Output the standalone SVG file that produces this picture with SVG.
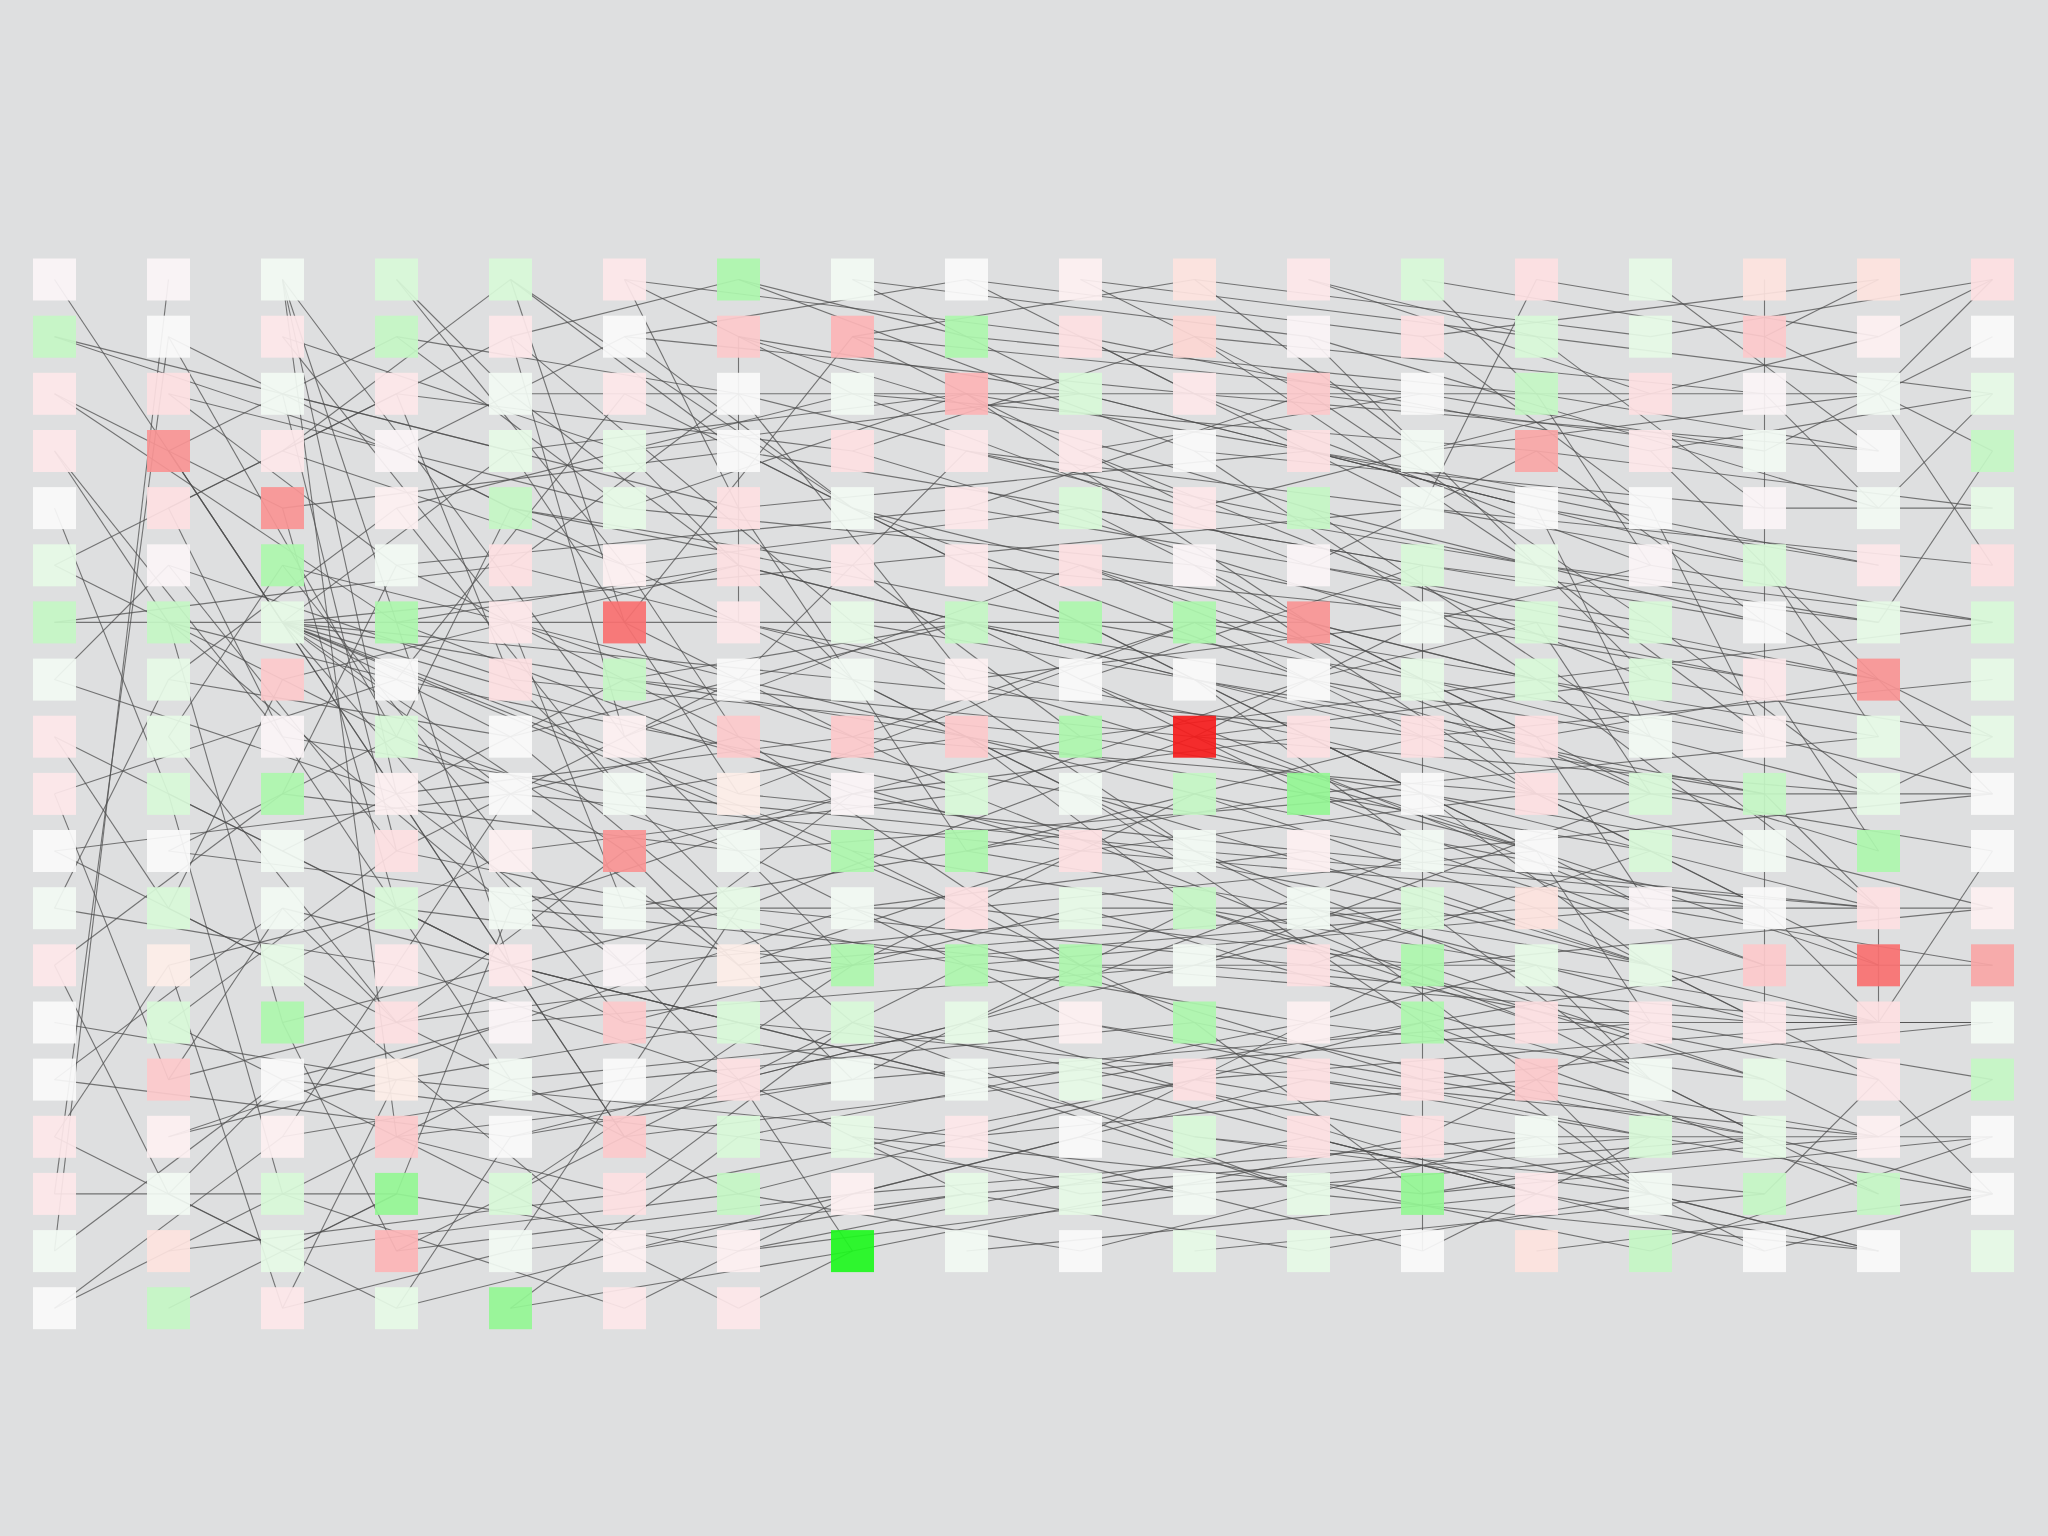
<svg xmlns="http://www.w3.org/2000/svg" width="2048" height="1536" viewBox="0 0 2048 1536">
<style>
#edges line{stroke:#4d4d4d;stroke-width:1.1px;stroke-opacity:.75;vector-effect:non-scaling-stroke;fill:none}
.nodes rect{fill-opacity:.92}
.w0{fill:#fafafa}.wp{fill:#fbf4f6}.wg{fill:#f2faf3}.p0{fill:#fdf0f1}.p1{fill:#fde7e9}.p2{fill:#fde0e2}.p3{fill:#fcc9cb}.p4{fill:#fcb4b6}
.pe{fill:#fde3de}.pe1{fill:#fdeee8}.pe2{fill:#fcd6d2}.r0{fill:#f9a6a6}.r1{fill:#f99494}.r2{fill:#f87070}.R{fill:#f51c1c}
.g1{fill:#e6fae6}.g2{fill:#d8f8d8}.g3{fill:#c4f6c4}.g4{fill:#acf6ac}.g5{fill:#94f694}.G{fill:#1ef71e}
</style>
<rect width="2048" height="1536" fill="#dedfe0"/>
<g id="edges" transform="matrix(114,0,0,57.15,54.5,279.5)">
<line x1="0" y1="0" x2="5" y2="15"/><line x1="0" y1="1" x2="3" y2="3"/><line x1="0" y1="1" x2="4" y2="3"/><line x1="0" y1="2" x2="2" y2="4"/><line x1="0" y1="2" x2="3" y2="6"/><line x1="0" y1="3" x2="1" y2="6"/><line x1="0" y1="3" x2="2" y2="8"/><line x1="0" y1="4" x2="1" y2="9"/><line x1="0" y1="5" x2="2" y2="7"/><line x1="0" y1="5" x2="3" y2="2"/><line x1="0" y1="6" x2="2" y2="6"/><line x1="0" y1="6" x2="4" y2="5"/><line x1="0" y1="7" x2="1" y2="5"/><line x1="0" y1="7" x2="3" y2="9"/><line x1="0" y1="8" x2="1" y2="11"/><line x1="0" y1="8" x2="2" y2="10"/><line x1="0" y1="9" x2="3" y2="7"/><line x1="0" y1="9" x2="1" y2="14"/><line x1="0" y1="10" x2="2" y2="12"/><line x1="0" y1="10" x2="4" y2="9"/><line x1="0" y1="11" x2="1" y2="7"/><line x1="0" y1="11" x2="3" y2="12"/><line x1="0" y1="12" x2="2" y2="9"/><line x1="0" y1="12" x2="1" y2="16"/><line x1="0" y1="13" x2="3" y2="14"/><line x1="0" y1="14" x2="4" y2="15"/><line x1="0" y1="14" x2="2" y2="11"/><line x1="0" y1="15" x2="1" y2="12"/><line x1="0" y1="15" x2="2" y2="17"/><line x1="0" y1="16" x2="1" y2="1"/><line x1="0" y1="16" x2="3" y2="16"/><line x1="0" y1="17" x2="1" y2="0"/><line x1="0" y1="17" x2="2" y2="14"/><line x1="0" y1="18" x2="2" y2="15"/><line x1="0" y1="18" x2="1" y2="17"/>
<line x1="1" y1="1" x2="3" y2="8"/><line x1="1" y1="1" x2="4" y2="4"/><line x1="1" y1="2" x2="3" y2="5"/><line x1="1" y1="2" x2="5" y2="4"/><line x1="1" y1="3" x2="5" y2="15"/><line x1="1" y1="3" x2="3" y2="1"/><line x1="1" y1="3" x2="2" y2="6"/><line x1="1" y1="4" x2="4" y2="1"/><line x1="1" y1="4" x2="2" y2="8"/><line x1="1" y1="5" x2="4" y2="7"/><line x1="1" y1="5" x2="3" y2="10"/><line x1="1" y1="6" x2="3" y2="7"/><line x1="1" y1="6" x2="4" y2="11"/><line x1="1" y1="6" x2="2" y2="13"/><line x1="1" y1="7" x2="3" y2="4"/><line x1="1" y1="7" x2="4" y2="8"/><line x1="1" y1="8" x2="2" y2="5"/><line x1="1" y1="8" x2="3" y2="13"/><line x1="1" y1="9" x2="4" y2="12"/><line x1="1" y1="9" x2="2" y2="16"/><line x1="1" y1="10" x2="3" y2="8"/><line x1="1" y1="10" x2="5" y2="11"/><line x1="1" y1="11" x2="2" y2="7"/><line x1="1" y1="11" x2="4" y2="14"/><line x1="1" y1="12" x2="3" y2="11"/><line x1="1" y1="12" x2="2" y2="18"/><line x1="1" y1="13" x2="3" y2="10"/><line x1="1" y1="13" x2="4" y2="16"/><line x1="1" y1="14" x2="2" y2="11"/><line x1="1" y1="14" x2="5" y2="12"/><line x1="1" y1="15" x2="3" y2="14"/><line x1="1" y1="15" x2="4" y2="13"/><line x1="1" y1="16" x2="2" y2="14"/><line x1="1" y1="16" x2="3" y2="18"/><line x1="1" y1="17" x2="2" y2="16"/><line x1="1" y1="17" x2="5" y2="16"/><line x1="1" y1="18" x2="3" y2="16"/>
<line x1="2" y1="0" x2="3" y2="9"/><line x1="2" y1="0" x2="4" y2="12"/><line x1="2" y1="0" x2="5" y2="8"/><line x1="2" y1="0" x2="3" y2="15"/><line x1="2" y1="1" x2="4" y2="6"/><line x1="2" y1="1" x2="5" y2="3"/><line x1="2" y1="3" x2="4" y2="0"/><line x1="2" y1="2" x2="6" y2="4"/><line x1="2" y1="2" x2="3" y2="10"/><line x1="2" y1="3" x2="5" y2="5"/><line x1="2" y1="4" x2="6" y2="3"/><line x1="2" y1="4" x2="3" y2="11"/><line x1="2" y1="5" x2="6" y2="7"/><line x1="2" y1="5" x2="4" y2="10"/><line x1="2" y1="6" x2="5" y2="6"/><line x1="2" y1="6" x2="7" y2="7"/><line x1="2" y1="6" x2="6" y2="9"/><line x1="2" y1="6" x2="8" y2="8"/><line x1="2" y1="6" x2="5" y2="10"/><line x1="2" y1="6" x2="7" y2="5"/><line x1="2" y1="6" x2="4" y2="8"/><line x1="2" y1="6" x2="9" y2="10"/><line x1="2" y1="6" x2="6" y2="12"/><line x1="2" y1="6" x2="4" y2="3"/><line x1="2" y1="6" x2="8" y2="11"/><line x1="2" y1="6" x2="5" y2="13"/><line x1="2" y1="6" x2="7" y2="10"/><line x1="2" y1="7" x2="4" y2="9"/><line x1="2" y1="7" x2="6" y2="5"/><line x1="2" y1="8" x2="5" y2="9"/><line x1="2" y1="8" x2="4" y2="14"/><line x1="2" y1="9" x2="3" y2="5"/><line x1="2" y1="9" x2="6" y2="10"/><line x1="2" y1="10" x2="4" y2="12"/><line x1="2" y1="10" x2="5" y2="7"/><line x1="2" y1="11" x2="3" y2="13"/><line x1="2" y1="11" x2="6" y2="13"/><line x1="2" y1="12" x2="4" y2="10"/><line x1="2" y1="12" x2="5" y2="17"/><line x1="2" y1="13" x2="3" y2="17"/><line x1="2" y1="13" x2="6" y2="11"/><line x1="2" y1="14" x2="4" y2="13"/><line x1="2" y1="14" x2="6" y2="15"/><line x1="2" y1="15" x2="3" y2="12"/><line x1="2" y1="15" x2="5" y2="14"/><line x1="2" y1="16" x2="4" y2="14"/><line x1="2" y1="16" x2="5" y2="18"/><line x1="2" y1="17" x2="3" y2="16"/><line x1="2" y1="17" x2="6" y2="16"/><line x1="2" y1="18" x2="4" y2="17"/><line x1="2" y1="18" x2="3" y2="14"/>
<line x1="3" y1="0" x2="5" y2="5"/><line x1="3" y1="0" x2="4" y2="2"/><line x1="3" y1="1" x2="6" y2="2"/><line x1="3" y1="1" x2="5" y2="4"/><line x1="3" y1="2" x2="7" y2="3"/><line x1="3" y1="2" x2="4" y2="7"/><line x1="3" y1="3" x2="6" y2="6"/><line x1="3" y1="3" x2="5" y2="1"/><line x1="3" y1="4" x2="7" y2="2"/><line x1="3" y1="4" x2="5" y2="9"/><line x1="3" y1="5" x2="6" y2="8"/><line x1="3" y1="5" x2="8" y2="4"/><line x1="3" y1="6" x2="6" y2="5"/><line x1="3" y1="6" x2="7" y2="9"/><line x1="3" y1="7" x2="5" y2="2"/><line x1="3" y1="7" x2="8" y2="9"/><line x1="3" y1="8" x2="6" y2="10"/><line x1="3" y1="8" x2="4" y2="4"/><line x1="3" y1="9" x2="7" y2="8"/><line x1="3" y1="9" x2="5" y2="12"/><line x1="3" y1="10" x2="6" y2="7"/><line x1="3" y1="10" x2="8" y2="12"/><line x1="3" y1="11" x2="5" y2="13"/><line x1="3" y1="11" x2="7" y2="12"/><line x1="3" y1="12" x2="6" y2="14"/><line x1="3" y1="12" x2="4" y2="9"/><line x1="3" y1="13" x2="7" y2="12"/><line x1="3" y1="13" x2="5" y2="10"/><line x1="3" y1="14" x2="6" y2="13"/><line x1="3" y1="14" x2="8" y2="15"/><line x1="3" y1="15" x2="5" y2="16"/><line x1="3" y1="15" x2="7" y2="14"/><line x1="3" y1="16" x2="6" y2="17"/><line x1="3" y1="16" x2="4" y2="11"/><line x1="3" y1="17" x2="5" y2="15"/><line x1="3" y1="17" x2="7" y2="16"/><line x1="3" y1="18" x2="5" y2="17"/><line x1="3" y1="18" x2="4" y2="15"/>
<line x1="4" y1="0" x2="6" y2="3"/><line x1="4" y1="0" x2="5" y2="6"/><line x1="4" y1="0" x2="7" y2="4"/><line x1="4" y1="1" x2="6" y2="0"/><line x1="4" y1="1" x2="7" y2="6"/><line x1="4" y1="1" x2="5" y2="8"/><line x1="4" y1="2" x2="16" y2="2"/><line x1="4" y1="2" x2="6" y2="5"/><line x1="4" y1="3" x2="8" y2="2"/><line x1="4" y1="3" x2="6" y2="9"/><line x1="4" y1="4" x2="7" y2="5"/><line x1="4" y1="4" x2="9" y2="6"/><line x1="4" y1="5" x2="6" y2="2"/><line x1="4" y1="5" x2="8" y2="7"/><line x1="4" y1="6" x2="7" y2="8"/><line x1="4" y1="6" x2="5" y2="11"/><line x1="4" y1="7" x2="9" y2="8"/><line x1="4" y1="7" x2="6" y2="11"/><line x1="4" y1="8" x2="8" y2="6"/><line x1="4" y1="8" x2="7" y2="13"/><line x1="4" y1="9" x2="6" y2="8"/><line x1="4" y1="9" x2="9" y2="10"/><line x1="4" y1="10" x2="8" y2="9"/><line x1="4" y1="10" x2="6" y2="14"/><line x1="4" y1="11" x2="7" y2="9"/><line x1="4" y1="11" x2="9" y2="12"/><line x1="4" y1="12" x2="6" y2="13"/><line x1="4" y1="12" x2="8" y2="14"/><line x1="4" y1="13" x2="7" y2="11"/><line x1="4" y1="13" x2="10" y2="12"/><line x1="4" y1="14" x2="6" y2="16"/><line x1="4" y1="14" x2="9" y2="13"/><line x1="4" y1="15" x2="7" y2="14"/><line x1="4" y1="15" x2="8" y2="13"/><line x1="4" y1="16" x2="6" y2="18"/><line x1="4" y1="16" x2="7" y2="12"/><line x1="4" y1="17" x2="5" y2="14"/><line x1="4" y1="17" x2="8" y2="16"/><line x1="4" y1="18" x2="6" y2="15"/><line x1="4" y1="18" x2="7" y2="17"/>
<line x1="5" y1="0" x2="7" y2="2"/><line x1="5" y1="0" x2="9" y2="1"/><line x1="5" y1="0" x2="6" y2="4"/><line x1="5" y1="1" x2="8" y2="0"/><line x1="5" y1="1" x2="7" y2="4"/><line x1="5" y1="1" x2="10" y2="2"/><line x1="5" y1="2" x2="8" y2="5"/><line x1="5" y1="3" x2="9" y2="2"/><line x1="5" y1="3" x2="7" y2="7"/><line x1="5" y1="4" x2="10" y2="5"/><line x1="5" y1="4" x2="8" y2="2"/><line x1="5" y1="5" x2="6" y2="8"/><line x1="5" y1="5" x2="9" y2="4"/><line x1="5" y1="6" x2="11" y2="6"/><line x1="5" y1="6" x2="8" y2="9"/><line x1="5" y1="6" x2="7" y2="1"/><line x1="5" y1="7" x2="10" y2="8"/><line x1="5" y1="7" x2="8" y2="6"/><line x1="5" y1="8" x2="9" y2="5"/><line x1="5" y1="8" x2="7" y2="12"/><line x1="5" y1="9" x2="10" y2="10"/><line x1="5" y1="9" x2="8" y2="8"/><line x1="5" y1="10" x2="9" y2="8"/><line x1="5" y1="10" x2="7" y2="14"/><line x1="5" y1="11" x2="11" y2="9"/><line x1="5" y1="11" x2="8" y2="11"/><line x1="5" y1="12" x2="10" y2="11"/><line x1="5" y1="12" x2="7" y2="9"/><line x1="5" y1="13" x2="9" y2="11"/><line x1="5" y1="13" x2="8" y2="14"/><line x1="5" y1="14" x2="10" y2="13"/><line x1="5" y1="14" x2="6" y2="11"/><line x1="5" y1="15" x2="9" y2="14"/><line x1="5" y1="15" x2="8" y2="12"/><line x1="5" y1="16" x2="10" y2="14"/><line x1="5" y1="16" x2="7" y2="13"/><line x1="5" y1="17" x2="9" y2="15"/><line x1="5" y1="17" x2="8" y2="16"/><line x1="5" y1="18" x2="7" y2="16"/>
<line x1="6" y1="0" x2="8" y2="1"/><line x1="6" y1="0" x2="10" y2="3"/><line x1="6" y1="1" x2="9" y2="2"/><line x1="6" y1="1" x2="6" y2="6"/><line x1="6" y1="1" x2="11" y2="4"/><line x1="6" y1="2" x2="10" y2="4"/><line x1="6" y1="2" x2="8" y2="7"/><line x1="6" y1="3" x2="12" y2="5"/><line x1="6" y1="3" x2="9" y2="6"/><line x1="6" y1="4" x2="11" y2="3"/><line x1="6" y1="4" x2="8" y2="10"/><line x1="6" y1="5" x2="10" y2="7"/><line x1="6" y1="5" x2="12" y2="8"/><line x1="6" y1="6" x2="9" y2="9"/><line x1="6" y1="6" x2="11" y2="8"/><line x1="6" y1="7" x2="10" y2="9"/><line x1="6" y1="7" x2="8" y2="3"/><line x1="6" y1="8" x2="12" y2="10"/><line x1="6" y1="8" x2="9" y2="12"/><line x1="6" y1="9" x2="11" y2="10"/><line x1="6" y1="9" x2="10" y2="6"/><line x1="6" y1="10" x2="12" y2="9"/><line x1="6" y1="10" x2="9" y2="13"/><line x1="6" y1="11" x2="11" y2="12"/><line x1="6" y1="11" x2="10" y2="8"/><line x1="6" y1="12" x2="12" y2="11"/><line x1="6" y1="12" x2="9" y2="10"/><line x1="6" y1="13" x2="11" y2="14"/><line x1="6" y1="13" x2="10" y2="15"/><line x1="6" y1="14" x2="12" y2="11"/><line x1="6" y1="14" x2="8" y2="16"/><line x1="6" y1="15" x2="11" y2="13"/><line x1="6" y1="15" x2="10" y2="16"/><line x1="6" y1="16" x2="12" y2="13"/><line x1="6" y1="16" x2="9" y2="17"/><line x1="6" y1="17" x2="11" y2="15"/><line x1="6" y1="17" x2="10" y2="16"/><line x1="6" y1="18" x2="7" y2="17"/>
<line x1="7" y1="0" x2="9" y2="2"/><line x1="7" y1="0" x2="11" y2="1"/><line x1="7" y1="1" x2="12" y2="2"/><line x1="7" y1="1" x2="10" y2="4"/><line x1="7" y1="2" x2="11" y2="5"/><line x1="7" y1="2" x2="13" y2="3"/><line x1="7" y1="3" x2="12" y2="6"/><line x1="7" y1="3" x2="10" y2="1"/><line x1="7" y1="4" x2="13" y2="7"/><line x1="7" y1="4" x2="11" y2="7"/><line x1="7" y1="5" x2="12" y2="4"/><line x1="7" y1="5" x2="9" y2="8"/><line x1="7" y1="6" x2="13" y2="8"/><line x1="7" y1="6" x2="10" y2="10"/><line x1="7" y1="7" x2="12" y2="8"/><line x1="7" y1="7" x2="11" y2="11"/><line x1="7" y1="8" x2="13" y2="9"/><line x1="7" y1="8" x2="10" y2="6"/><line x1="7" y1="9" x2="12" y2="11"/><line x1="7" y1="9" x2="11" y2="8"/><line x1="7" y1="10" x2="13" y2="12"/><line x1="7" y1="10" x2="10" y2="13"/><line x1="7" y1="11" x2="12" y2="14"/><line x1="7" y1="11" x2="11" y2="10"/><line x1="7" y1="12" x2="13" y2="11"/><line x1="7" y1="12" x2="10" y2="9"/><line x1="7" y1="13" x2="12" y2="15"/><line x1="7" y1="13" x2="11" y2="16"/><line x1="7" y1="14" x2="13" y2="13"/><line x1="7" y1="14" x2="10" y2="11"/><line x1="7" y1="15" x2="12" y2="16"/><line x1="7" y1="15" x2="9" y2="16"/><line x1="7" y1="16" x2="13" y2="15"/><line x1="7" y1="16" x2="11" y2="14"/><line x1="7" y1="17" x2="12" y2="15"/><line x1="7" y1="17" x2="6" y2="14"/>
<line x1="8" y1="0" x2="12" y2="1"/><line x1="8" y1="0" x2="10" y2="2"/><line x1="8" y1="1" x2="13" y2="2"/><line x1="8" y1="2" x2="14" y2="4"/><line x1="8" y1="2" x2="11" y2="6"/><line x1="8" y1="3" x2="13" y2="5"/><line x1="8" y1="3" x2="12" y2="4"/><line x1="8" y1="4" x2="14" y2="6"/><line x1="8" y1="4" x2="11" y2="2"/><line x1="8" y1="5" x2="13" y2="6"/><line x1="8" y1="5" x2="12" y2="9"/><line x1="8" y1="6" x2="14" y2="8"/><line x1="8" y1="6" x2="11" y2="9"/><line x1="8" y1="7" x2="13" y2="10"/><line x1="8" y1="7" x2="12" y2="6"/><line x1="8" y1="8" x2="14" y2="10"/><line x1="8" y1="8" x2="10" y2="11"/><line x1="8" y1="9" x2="13" y2="13"/><line x1="8" y1="9" x2="11" y2="7"/><line x1="8" y1="10" x2="14" y2="12"/><line x1="8" y1="10" x2="12" y2="8"/><line x1="8" y1="11" x2="13" y2="10"/><line x1="8" y1="11" x2="12" y2="12"/><line x1="8" y1="12" x2="14" y2="11"/><line x1="8" y1="12" x2="11" y2="13"/><line x1="8" y1="13" x2="13" y2="16"/><line x1="8" y1="13" x2="12" y2="10"/><line x1="8" y1="14" x2="14" y2="13"/><line x1="8" y1="14" x2="11" y2="16"/><line x1="8" y1="15" x2="13" y2="14"/><line x1="8" y1="15" x2="12" y2="17"/><line x1="8" y1="16" x2="14" y2="15"/><line x1="8" y1="16" x2="11" y2="17"/><line x1="8" y1="17" x2="13" y2="16"/>
<line x1="9" y1="0" x2="13" y2="1"/><line x1="9" y1="0" x2="11" y2="2"/><line x1="9" y1="1" x2="14" y2="3"/><line x1="9" y1="1" x2="12" y2="4"/><line x1="9" y1="2" x2="15" y2="5"/><line x1="9" y1="2" x2="13" y2="4"/><line x1="9" y1="3" x2="14" y2="7"/><line x1="9" y1="3" x2="12" y2="2"/><line x1="9" y1="4" x2="15" y2="6"/><line x1="9" y1="4" x2="13" y2="8"/><line x1="9" y1="5" x2="14" y2="9"/><line x1="9" y1="5" x2="12" y2="7"/><line x1="9" y1="6" x2="15" y2="8"/><line x1="9" y1="6" x2="13" y2="10"/><line x1="9" y1="7" x2="14" y2="11"/><line x1="9" y1="7" x2="12" y2="5"/><line x1="9" y1="8" x2="15" y2="10"/><line x1="9" y1="8" x2="13" y2="7"/><line x1="9" y1="9" x2="14" y2="12"/><line x1="9" y1="9" x2="12" y2="13"/><line x1="9" y1="10" x2="15" y2="11"/><line x1="9" y1="10" x2="13" y2="9"/><line x1="9" y1="11" x2="14" y2="14"/><line x1="9" y1="11" x2="12" y2="11"/><line x1="9" y1="12" x2="15" y2="13"/><line x1="9" y1="12" x2="13" y2="12"/><line x1="9" y1="13" x2="14" y2="15"/><line x1="9" y1="13" x2="12" y2="14"/><line x1="9" y1="14" x2="15" y2="12"/><line x1="9" y1="14" x2="13" y2="16"/><line x1="9" y1="15" x2="14" y2="17"/><line x1="9" y1="15" x2="12" y2="12"/><line x1="9" y1="16" x2="15" y2="15"/><line x1="9" y1="17" x2="13" y2="15"/>
<line x1="10" y1="0" x2="7" y2="1"/><line x1="10" y1="0" x2="14" y2="1"/><line x1="10" y1="0" x2="12" y2="3"/><line x1="10" y1="1" x2="15" y2="2"/><line x1="10" y1="1" x2="13" y2="5"/><line x1="10" y1="2" x2="16" y2="3"/><line x1="10" y1="2" x2="14" y2="5"/><line x1="10" y1="3" x2="15" y2="4"/><line x1="10" y1="3" x2="13" y2="7"/><line x1="10" y1="4" x2="16" y2="6"/><line x1="10" y1="4" x2="14" y2="2"/><line x1="10" y1="5" x2="15" y2="7"/><line x1="10" y1="5" x2="13" y2="9"/><line x1="10" y1="6" x2="16" y2="8"/><line x1="10" y1="6" x2="14" y2="10"/><line x1="10" y1="7" x2="15" y2="9"/><line x1="10" y1="7" x2="12" y2="10"/><line x1="10" y1="8" x2="16" y2="9"/><line x1="10" y1="8" x2="13" y2="10"/><line x1="10" y1="8" x2="14" y2="7"/><line x1="10" y1="8" x2="12" y2="6"/><line x1="10" y1="9" x2="15" y2="11"/><line x1="10" y1="9" x2="13" y2="11"/><line x1="10" y1="10" x2="16" y2="11"/><line x1="10" y1="10" x2="14" y2="13"/><line x1="10" y1="11" x2="15" y2="14"/><line x1="10" y1="11" x2="13" y2="13"/><line x1="10" y1="12" x2="16" y2="13"/><line x1="10" y1="12" x2="14" y2="9"/><line x1="10" y1="13" x2="15" y2="15"/><line x1="10" y1="13" x2="12" y2="16"/><line x1="10" y1="14" x2="16" y2="13"/><line x1="10" y1="14" x2="13" y2="15"/><line x1="10" y1="15" x2="15" y2="16"/><line x1="10" y1="15" x2="14" y2="16"/><line x1="10" y1="16" x2="16" y2="15"/><line x1="10" y1="17" x2="15" y2="16"/>
<line x1="11" y1="0" x2="14" y2="2"/><line x1="11" y1="0" x2="13" y2="1"/><line x1="11" y1="1" x2="16" y2="4"/><line x1="11" y1="1" x2="12" y2="3"/><line x1="11" y1="2" x2="15" y2="3"/><line x1="11" y1="2" x2="14" y2="6"/><line x1="11" y1="3" x2="16" y2="5"/><line x1="11" y1="3" x2="13" y2="4"/><line x1="11" y1="4" x2="15" y2="6"/><line x1="11" y1="4" x2="14" y2="8"/><line x1="11" y1="5" x2="16" y2="7"/><line x1="11" y1="5" x2="13" y2="3"/><line x1="11" y1="6" x2="15" y2="8"/><line x1="11" y1="6" x2="14" y2="9"/><line x1="11" y1="7" x2="16" y2="10"/><line x1="11" y1="7" x2="13" y2="6"/><line x1="11" y1="8" x2="15" y2="10"/><line x1="11" y1="8" x2="14" y2="11"/><line x1="11" y1="9" x2="16" y2="8"/><line x1="11" y1="9" x2="13" y2="10"/><line x1="11" y1="9" x2="15" y2="12"/><line x1="11" y1="10" x2="14" y2="12"/><line x1="11" y1="10" x2="16" y2="11"/><line x1="11" y1="11" x2="15" y2="13"/><line x1="11" y1="11" x2="13" y2="14"/><line x1="11" y1="12" x2="16" y2="14"/><line x1="11" y1="12" x2="14" y2="10"/><line x1="11" y1="13" x2="15" y2="14"/><line x1="11" y1="13" x2="13" y2="12"/><line x1="11" y1="14" x2="16" y2="15"/><line x1="11" y1="14" x2="14" y2="15"/><line x1="11" y1="15" x2="15" y2="17"/><line x1="11" y1="15" x2="13" y2="16"/><line x1="11" y1="16" x2="16" y2="17"/><line x1="11" y1="17" x2="14" y2="16"/>
<line x1="12" y1="0" x2="15" y2="1"/><line x1="12" y1="0" x2="13" y2="2"/><line x1="12" y1="1" x2="16" y2="0"/><line x1="12" y1="1" x2="14" y2="4"/><line x1="12" y1="2" x2="15" y2="3"/><line x1="12" y1="3" x2="16" y2="2"/><line x1="12" y1="3" x2="14" y2="7"/><line x1="12" y1="4" x2="15" y2="5"/><line x1="12" y1="4" x2="17" y2="5"/><line x1="12" y1="5" x2="12" y2="17"/><line x1="12" y1="5" x2="16" y2="6"/><line x1="12" y1="6" x2="15" y2="7"/><line x1="12" y1="6" x2="14" y2="5"/><line x1="12" y1="7" x2="16" y2="9"/><line x1="12" y1="7" x2="13" y2="9"/><line x1="12" y1="8" x2="15" y2="9"/><line x1="12" y1="8" x2="17" y2="7"/><line x1="12" y1="9" x2="16" y2="11"/><line x1="12" y1="9" x2="14" y2="12"/><line x1="12" y1="10" x2="15" y2="12"/><line x1="12" y1="10" x2="17" y2="9"/><line x1="12" y1="11" x2="16" y2="13"/><line x1="12" y1="11" x2="14" y2="14"/><line x1="12" y1="12" x2="15" y2="14"/><line x1="12" y1="12" x2="17" y2="11"/><line x1="12" y1="13" x2="16" y2="16"/><line x1="12" y1="13" x2="14" y2="16"/><line x1="12" y1="14" x2="15" y2="15"/><line x1="12" y1="14" x2="17" y2="13"/><line x1="12" y1="15" x2="16" y2="17"/><line x1="12" y1="15" x2="14" y2="13"/><line x1="12" y1="16" x2="15" y2="15"/><line x1="12" y1="16" x2="17" y2="15"/><line x1="12" y1="17" x2="14" y2="15"/>
<line x1="13" y1="0" x2="16" y2="1"/><line x1="13" y1="0" x2="12" y2="4"/><line x1="13" y1="1" x2="17" y2="2"/><line x1="13" y1="1" x2="15" y2="4"/><line x1="13" y1="2" x2="16" y2="3"/><line x1="13" y1="2" x2="14" y2="5"/><line x1="13" y1="3" x2="17" y2="4"/><line x1="13" y1="3" x2="15" y2="6"/><line x1="13" y1="4" x2="16" y2="5"/><line x1="13" y1="4" x2="14" y2="8"/><line x1="13" y1="5" x2="17" y2="6"/><line x1="13" y1="5" x2="15" y2="8"/><line x1="13" y1="6" x2="16" y2="7"/><line x1="13" y1="6" x2="14" y2="9"/><line x1="13" y1="7" x2="17" y2="6"/><line x1="13" y1="7" x2="15" y2="10"/><line x1="13" y1="8" x2="16" y2="7"/><line x1="13" y1="8" x2="14" y2="11"/><line x1="13" y1="9" x2="17" y2="9"/><line x1="13" y1="9" x2="15" y2="11"/><line x1="13" y1="10" x2="16" y2="12"/><line x1="13" y1="10" x2="14" y2="13"/><line x1="13" y1="11" x2="17" y2="11"/><line x1="13" y1="11" x2="15" y2="13"/><line x1="13" y1="12" x2="16" y2="13"/><line x1="13" y1="12" x2="14" y2="14"/><line x1="13" y1="13" x2="17" y2="13"/><line x1="13" y1="13" x2="15" y2="15"/><line x1="13" y1="14" x2="16" y2="15"/><line x1="13" y1="14" x2="14" y2="16"/><line x1="13" y1="15" x2="17" y2="15"/><line x1="13" y1="15" x2="15" y2="17"/><line x1="13" y1="16" x2="16" y2="17"/><line x1="13" y1="17" x2="17" y2="16"/>
<line x1="14" y1="0" x2="16" y2="3"/><line x1="14" y1="1" x2="17" y2="0"/><line x1="14" y1="2" x2="16" y2="1"/><line x1="14" y1="3" x2="17" y2="2"/><line x1="14" y1="3" x2="16" y2="7"/><line x1="14" y1="4" x2="15" y2="8"/><line x1="14" y1="5" x2="17" y2="6"/><line x1="14" y1="6" x2="16" y2="9"/><line x1="14" y1="7" x2="17" y2="8"/><line x1="14" y1="8" x2="16" y2="11"/><line x1="14" y1="9" x2="17" y2="10"/><line x1="14" y1="10" x2="16" y2="12"/><line x1="14" y1="11" x2="17" y2="12"/><line x1="14" y1="12" x2="16" y2="14"/><line x1="14" y1="13" x2="17" y2="14"/><line x1="14" y1="14" x2="16" y2="16"/><line x1="14" y1="15" x2="17" y2="16"/><line x1="14" y1="16" x2="16" y2="17"/><line x1="14" y1="17" x2="17" y2="15"/>
<line x1="15" y1="0" x2="15" y2="13"/><line x1="15" y1="1" x2="16" y2="0"/><line x1="15" y1="1" x2="17" y2="3"/><line x1="15" y1="2" x2="16" y2="4"/><line x1="15" y1="3" x2="17" y2="1"/><line x1="15" y1="4" x2="17" y2="4"/><line x1="15" y1="5" x2="16" y2="8"/><line x1="15" y1="6" x2="17" y2="8"/><line x1="15" y1="7" x2="16" y2="10"/><line x1="15" y1="8" x2="17" y2="9"/><line x1="15" y1="9" x2="16" y2="11"/><line x1="15" y1="10" x2="17" y2="11"/><line x1="15" y1="11" x2="16" y2="13"/><line x1="15" y1="12" x2="16" y2="12"/><line x1="15" y1="13" x2="17" y2="13"/><line x1="15" y1="14" x2="16" y2="15"/><line x1="15" y1="15" x2="17" y2="16"/><line x1="15" y1="16" x2="16" y2="14"/><line x1="15" y1="17" x2="17" y2="16"/>
<line x1="17" y1="0" x2="16" y2="2"/><line x1="16" y1="1" x2="17" y2="0"/><line x1="16" y1="2" x2="17" y2="5"/><line x1="16" y1="4" x2="17" y2="2"/><line x1="17" y1="3" x2="16" y2="6"/><line x1="16" y1="7" x2="17" y2="9"/><line x1="16" y1="9" x2="17" y2="8"/><line x1="16" y1="11" x2="16" y2="13"/><line x1="16" y1="12" x2="17" y2="12"/><line x1="16" y1="13" x2="17" y2="10"/><line x1="16" y1="14" x2="17" y2="16"/><line x1="16" y1="15" x2="17" y2="14"/>
</g>
<g class="nodes">
<g id="n0_0"><rect class="wp" x="33" y="258.5" width="43" height="42"/></g>
<g id="n0_1"><rect class="g3" x="33" y="315.7" width="43" height="42"/></g>
<g id="n0_2"><rect class="p1" x="33" y="372.8" width="43" height="42"/></g>
<g id="n0_3"><rect class="p1" x="33" y="430" width="43" height="42"/></g>
<g id="n0_4"><rect class="w0" x="33" y="487.1" width="43" height="42"/></g>
<g id="n0_5"><rect class="g1" x="33" y="544.3" width="43" height="42"/></g>
<g id="n0_6"><rect class="g3" x="33" y="601.4" width="43" height="42"/></g>
<g id="n0_7"><rect class="wg" x="33" y="658.6" width="43" height="42"/></g>
<g id="n0_8"><rect class="p1" x="33" y="715.7" width="43" height="42"/></g>
<g id="n0_9"><rect class="p1" x="33" y="772.9" width="43" height="42"/></g>
<g id="n0_10"><rect class="w0" x="33" y="830" width="43" height="42"/></g>
<g id="n0_11"><rect class="wg" x="33" y="887.2" width="43" height="42"/></g>
<g id="n0_12"><rect class="p1" x="33" y="944.3" width="43" height="42"/></g>
<g id="n0_13"><rect class="w0" x="33" y="1001.5" width="43" height="42"/></g>
<g id="n0_14"><rect class="w0" x="33" y="1058.6" width="43" height="42"/></g>
<g id="n0_15"><rect class="p1" x="33" y="1115.8" width="43" height="42"/></g>
<g id="n0_16"><rect class="p1" x="33" y="1172.9" width="43" height="42"/></g>
<g id="n0_17"><rect class="wg" x="33" y="1230.1" width="43" height="42"/></g>
<g id="n0_18"><rect class="w0" x="33" y="1287.2" width="43" height="42"/></g>
<g id="n1_0"><rect class="wp" x="147" y="258.5" width="43" height="42"/></g>
<g id="n1_1"><rect class="w0" x="147" y="315.7" width="43" height="42"/></g>
<g id="n1_2"><rect class="p2" x="147" y="372.8" width="43" height="42"/></g>
<g id="n1_3"><rect class="r1" x="147" y="430" width="43" height="42"/></g>
<g id="n1_4"><rect class="p2" x="147" y="487.1" width="43" height="42"/></g>
<g id="n1_5"><rect class="wp" x="147" y="544.3" width="43" height="42"/></g>
<g id="n1_6"><rect class="g3" x="147" y="601.4" width="43" height="42"/></g>
<g id="n1_7"><rect class="g1" x="147" y="658.6" width="43" height="42"/></g>
<g id="n1_8"><rect class="g1" x="147" y="715.7" width="43" height="42"/></g>
<g id="n1_9"><rect class="g2" x="147" y="772.9" width="43" height="42"/></g>
<g id="n1_10"><rect class="w0" x="147" y="830" width="43" height="42"/></g>
<g id="n1_11"><rect class="g2" x="147" y="887.2" width="43" height="42"/></g>
<g id="n1_12"><rect class="pe1" x="147" y="944.3" width="43" height="42"/></g>
<g id="n1_13"><rect class="g2" x="147" y="1001.5" width="43" height="42"/></g>
<g id="n1_14"><rect class="p3" x="147" y="1058.6" width="43" height="42"/></g>
<g id="n1_15"><rect class="p0" x="147" y="1115.8" width="43" height="42"/></g>
<g id="n1_16"><rect class="wg" x="147" y="1172.9" width="43" height="42"/></g>
<g id="n1_17"><rect class="pe" x="147" y="1230.1" width="43" height="42"/></g>
<g id="n1_18"><rect class="g3" x="147" y="1287.2" width="43" height="42"/></g>
<g id="n2_0"><rect class="wg" x="261" y="258.5" width="43" height="42"/></g>
<g id="n2_1"><rect class="p1" x="261" y="315.7" width="43" height="42"/></g>
<g id="n2_2"><rect class="wg" x="261" y="372.8" width="43" height="42"/></g>
<g id="n2_3"><rect class="p1" x="261" y="430" width="43" height="42"/></g>
<g id="n2_4"><rect class="r1" x="261" y="487.1" width="43" height="42"/></g>
<g id="n2_5"><rect class="g4" x="261" y="544.3" width="43" height="42"/></g>
<g id="n2_6"><rect class="g1" x="261" y="601.4" width="43" height="42"/></g>
<g id="n2_7"><rect class="p3" x="261" y="658.6" width="43" height="42"/></g>
<g id="n2_8"><rect class="wp" x="261" y="715.7" width="43" height="42"/></g>
<g id="n2_9"><rect class="g4" x="261" y="772.9" width="43" height="42"/></g>
<g id="n2_10"><rect class="wg" x="261" y="830" width="43" height="42"/></g>
<g id="n2_11"><rect class="wg" x="261" y="887.2" width="43" height="42"/></g>
<g id="n2_12"><rect class="g1" x="261" y="944.3" width="43" height="42"/></g>
<g id="n2_13"><rect class="g4" x="261" y="1001.5" width="43" height="42"/></g>
<g id="n2_14"><rect class="w0" x="261" y="1058.6" width="43" height="42"/></g>
<g id="n2_15"><rect class="p0" x="261" y="1115.8" width="43" height="42"/></g>
<g id="n2_16"><rect class="g2" x="261" y="1172.9" width="43" height="42"/></g>
<g id="n2_17"><rect class="g1" x="261" y="1230.1" width="43" height="42"/></g>
<g id="n2_18"><rect class="p1" x="261" y="1287.2" width="43" height="42"/></g>
<g id="n3_0"><rect class="g2" x="375" y="258.5" width="43" height="42"/></g>
<g id="n3_1"><rect class="g3" x="375" y="315.7" width="43" height="42"/></g>
<g id="n3_2"><rect class="p1" x="375" y="372.8" width="43" height="42"/></g>
<g id="n3_3"><rect class="wp" x="375" y="430" width="43" height="42"/></g>
<g id="n3_4"><rect class="p0" x="375" y="487.1" width="43" height="42"/></g>
<g id="n3_5"><rect class="wg" x="375" y="544.3" width="43" height="42"/></g>
<g id="n3_6"><rect class="g4" x="375" y="601.4" width="43" height="42"/></g>
<g id="n3_7"><rect class="w0" x="375" y="658.6" width="43" height="42"/></g>
<g id="n3_8"><rect class="g2" x="375" y="715.7" width="43" height="42"/></g>
<g id="n3_9"><rect class="p0" x="375" y="772.9" width="43" height="42"/></g>
<g id="n3_10"><rect class="p2" x="375" y="830" width="43" height="42"/></g>
<g id="n3_11"><rect class="g2" x="375" y="887.2" width="43" height="42"/></g>
<g id="n3_12"><rect class="p1" x="375" y="944.3" width="43" height="42"/></g>
<g id="n3_13"><rect class="p2" x="375" y="1001.5" width="43" height="42"/></g>
<g id="n3_14"><rect class="pe1" x="375" y="1058.6" width="43" height="42"/></g>
<g id="n3_15"><rect class="p3" x="375" y="1115.8" width="43" height="42"/></g>
<g id="n3_16"><rect class="g5" x="375" y="1172.9" width="43" height="42"/></g>
<g id="n3_17"><rect class="p4" x="375" y="1230.1" width="43" height="42"/></g>
<g id="n3_18"><rect class="g1" x="375" y="1287.2" width="43" height="42"/></g>
<g id="n4_0"><rect class="g2" x="489" y="258.5" width="43" height="42"/></g>
<g id="n4_1"><rect class="p1" x="489" y="315.7" width="43" height="42"/></g>
<g id="n4_2"><rect class="wg" x="489" y="372.8" width="43" height="42"/></g>
<g id="n4_3"><rect class="g1" x="489" y="430" width="43" height="42"/></g>
<g id="n4_4"><rect class="g3" x="489" y="487.1" width="43" height="42"/></g>
<g id="n4_5"><rect class="p2" x="489" y="544.3" width="43" height="42"/></g>
<g id="n4_6"><rect class="p1" x="489" y="601.4" width="43" height="42"/></g>
<g id="n4_7"><rect class="p2" x="489" y="658.6" width="43" height="42"/></g>
<g id="n4_8"><rect class="w0" x="489" y="715.7" width="43" height="42"/></g>
<g id="n4_9"><rect class="w0" x="489" y="772.9" width="43" height="42"/></g>
<g id="n4_10"><rect class="p0" x="489" y="830" width="43" height="42"/></g>
<g id="n4_11"><rect class="wg" x="489" y="887.2" width="43" height="42"/></g>
<g id="n4_12"><rect class="p1" x="489" y="944.3" width="43" height="42"/></g>
<g id="n4_13"><rect class="wp" x="489" y="1001.5" width="43" height="42"/></g>
<g id="n4_14"><rect class="wg" x="489" y="1058.6" width="43" height="42"/></g>
<g id="n4_15"><rect class="w0" x="489" y="1115.8" width="43" height="42"/></g>
<g id="n4_16"><rect class="g2" x="489" y="1172.9" width="43" height="42"/></g>
<g id="n4_17"><rect class="wg" x="489" y="1230.1" width="43" height="42"/></g>
<g id="n4_18"><rect class="g5" x="489" y="1287.2" width="43" height="42"/></g>
<g id="n5_0"><rect class="p1" x="603" y="258.5" width="43" height="42"/></g>
<g id="n5_1"><rect class="w0" x="603" y="315.7" width="43" height="42"/></g>
<g id="n5_2"><rect class="p1" x="603" y="372.8" width="43" height="42"/></g>
<g id="n5_3"><rect class="g1" x="603" y="430" width="43" height="42"/></g>
<g id="n5_4"><rect class="g1" x="603" y="487.1" width="43" height="42"/></g>
<g id="n5_5"><rect class="p0" x="603" y="544.3" width="43" height="42"/></g>
<g id="n5_6"><rect class="r2" x="603" y="601.4" width="43" height="42"/></g>
<g id="n5_7"><rect class="g3" x="603" y="658.6" width="43" height="42"/></g>
<g id="n5_8"><rect class="p0" x="603" y="715.7" width="43" height="42"/></g>
<g id="n5_9"><rect class="wg" x="603" y="772.9" width="43" height="42"/></g>
<g id="n5_10"><rect class="r1" x="603" y="830" width="43" height="42"/></g>
<g id="n5_11"><rect class="wg" x="603" y="887.2" width="43" height="42"/></g>
<g id="n5_12"><rect class="wp" x="603" y="944.3" width="43" height="42"/></g>
<g id="n5_13"><rect class="p3" x="603" y="1001.5" width="43" height="42"/></g>
<g id="n5_14"><rect class="w0" x="603" y="1058.6" width="43" height="42"/></g>
<g id="n5_15"><rect class="p3" x="603" y="1115.8" width="43" height="42"/></g>
<g id="n5_16"><rect class="p2" x="603" y="1172.9" width="43" height="42"/></g>
<g id="n5_17"><rect class="p0" x="603" y="1230.1" width="43" height="42"/></g>
<g id="n5_18"><rect class="p1" x="603" y="1287.2" width="43" height="42"/></g>
<g id="n6_0"><rect class="g4" x="717" y="258.5" width="43" height="42"/></g>
<g id="n6_1"><rect class="p3" x="717" y="315.7" width="43" height="42"/></g>
<g id="n6_2"><rect class="w0" x="717" y="372.8" width="43" height="42"/></g>
<g id="n6_3"><rect class="w0" x="717" y="430" width="43" height="42"/></g>
<g id="n6_4"><rect class="p2" x="717" y="487.1" width="43" height="42"/></g>
<g id="n6_5"><rect class="p2" x="717" y="544.3" width="43" height="42"/></g>
<g id="n6_6"><rect class="p1" x="717" y="601.4" width="43" height="42"/></g>
<g id="n6_7"><rect class="w0" x="717" y="658.6" width="43" height="42"/></g>
<g id="n6_8"><rect class="p3" x="717" y="715.7" width="43" height="42"/></g>
<g id="n6_9"><rect class="pe1" x="717" y="772.9" width="43" height="42"/></g>
<g id="n6_10"><rect class="wg" x="717" y="830" width="43" height="42"/></g>
<g id="n6_11"><rect class="g1" x="717" y="887.2" width="43" height="42"/></g>
<g id="n6_12"><rect class="pe1" x="717" y="944.3" width="43" height="42"/></g>
<g id="n6_13"><rect class="g2" x="717" y="1001.5" width="43" height="42"/></g>
<g id="n6_14"><rect class="p2" x="717" y="1058.6" width="43" height="42"/></g>
<g id="n6_15"><rect class="g2" x="717" y="1115.8" width="43" height="42"/></g>
<g id="n6_16"><rect class="g3" x="717" y="1172.9" width="43" height="42"/></g>
<g id="n6_17"><rect class="p0" x="717" y="1230.1" width="43" height="42"/></g>
<g id="n6_18"><rect class="p1" x="717" y="1287.2" width="43" height="42"/></g>
<g id="n7_0"><rect class="wg" x="831" y="258.5" width="43" height="42"/></g>
<g id="n7_1"><rect class="p4" x="831" y="315.7" width="43" height="42"/></g>
<g id="n7_2"><rect class="wg" x="831" y="372.8" width="43" height="42"/></g>
<g id="n7_3"><rect class="p2" x="831" y="430" width="43" height="42"/></g>
<g id="n7_4"><rect class="wg" x="831" y="487.1" width="43" height="42"/></g>
<g id="n7_5"><rect class="p1" x="831" y="544.3" width="43" height="42"/></g>
<g id="n7_6"><rect class="g1" x="831" y="601.4" width="43" height="42"/></g>
<g id="n7_7"><rect class="wg" x="831" y="658.6" width="43" height="42"/></g>
<g id="n7_8"><rect class="p3" x="831" y="715.7" width="43" height="42"/></g>
<g id="n7_9"><rect class="wp" x="831" y="772.9" width="43" height="42"/></g>
<g id="n7_10"><rect class="g4" x="831" y="830" width="43" height="42"/></g>
<g id="n7_11"><rect class="wg" x="831" y="887.2" width="43" height="42"/></g>
<g id="n7_12"><rect class="g4" x="831" y="944.3" width="43" height="42"/></g>
<g id="n7_13"><rect class="g2" x="831" y="1001.5" width="43" height="42"/></g>
<g id="n7_14"><rect class="wg" x="831" y="1058.6" width="43" height="42"/></g>
<g id="n7_15"><rect class="g1" x="831" y="1115.8" width="43" height="42"/></g>
<g id="n7_16"><rect class="p0" x="831" y="1172.9" width="43" height="42"/></g>
<g id="n7_17"><rect class="G" x="831" y="1230.1" width="43" height="42"/></g>
<g id="n8_0"><rect class="w0" x="945" y="258.5" width="43" height="42"/></g>
<g id="n8_1"><rect class="g4" x="945" y="315.7" width="43" height="42"/></g>
<g id="n8_2"><rect class="p4" x="945" y="372.8" width="43" height="42"/></g>
<g id="n8_3"><rect class="p1" x="945" y="430" width="43" height="42"/></g>
<g id="n8_4"><rect class="p1" x="945" y="487.1" width="43" height="42"/></g>
<g id="n8_5"><rect class="p1" x="945" y="544.3" width="43" height="42"/></g>
<g id="n8_6"><rect class="g3" x="945" y="601.4" width="43" height="42"/></g>
<g id="n8_7"><rect class="p0" x="945" y="658.6" width="43" height="42"/></g>
<g id="n8_8"><rect class="p3" x="945" y="715.7" width="43" height="42"/></g>
<g id="n8_9"><rect class="g2" x="945" y="772.9" width="43" height="42"/></g>
<g id="n8_10"><rect class="g4" x="945" y="830" width="43" height="42"/></g>
<g id="n8_11"><rect class="p2" x="945" y="887.2" width="43" height="42"/></g>
<g id="n8_12"><rect class="g4" x="945" y="944.3" width="43" height="42"/></g>
<g id="n8_13"><rect class="g1" x="945" y="1001.5" width="43" height="42"/></g>
<g id="n8_14"><rect class="wg" x="945" y="1058.6" width="43" height="42"/></g>
<g id="n8_15"><rect class="p1" x="945" y="1115.8" width="43" height="42"/></g>
<g id="n8_16"><rect class="g1" x="945" y="1172.9" width="43" height="42"/></g>
<g id="n8_17"><rect class="wg" x="945" y="1230.1" width="43" height="42"/></g>
<g id="n9_0"><rect class="p0" x="1059" y="258.5" width="43" height="42"/></g>
<g id="n9_1"><rect class="p2" x="1059" y="315.7" width="43" height="42"/></g>
<g id="n9_2"><rect class="g2" x="1059" y="372.8" width="43" height="42"/></g>
<g id="n9_3"><rect class="p1" x="1059" y="430" width="43" height="42"/></g>
<g id="n9_4"><rect class="g2" x="1059" y="487.1" width="43" height="42"/></g>
<g id="n9_5"><rect class="p2" x="1059" y="544.3" width="43" height="42"/></g>
<g id="n9_6"><rect class="g4" x="1059" y="601.4" width="43" height="42"/></g>
<g id="n9_7"><rect class="w0" x="1059" y="658.6" width="43" height="42"/></g>
<g id="n9_8"><rect class="g4" x="1059" y="715.7" width="43" height="42"/></g>
<g id="n9_9"><rect class="wg" x="1059" y="772.9" width="43" height="42"/></g>
<g id="n9_10"><rect class="p2" x="1059" y="830" width="43" height="42"/></g>
<g id="n9_11"><rect class="g1" x="1059" y="887.2" width="43" height="42"/></g>
<g id="n9_12"><rect class="g4" x="1059" y="944.3" width="43" height="42"/></g>
<g id="n9_13"><rect class="p0" x="1059" y="1001.5" width="43" height="42"/></g>
<g id="n9_14"><rect class="g1" x="1059" y="1058.6" width="43" height="42"/></g>
<g id="n9_15"><rect class="w0" x="1059" y="1115.8" width="43" height="42"/></g>
<g id="n9_16"><rect class="g1" x="1059" y="1172.9" width="43" height="42"/></g>
<g id="n9_17"><rect class="w0" x="1059" y="1230.1" width="43" height="42"/></g>
<g id="n10_0"><rect class="pe" x="1173" y="258.5" width="43" height="42"/></g>
<g id="n10_1"><rect class="pe2" x="1173" y="315.7" width="43" height="42"/></g>
<g id="n10_2"><rect class="p1" x="1173" y="372.8" width="43" height="42"/></g>
<g id="n10_3"><rect class="w0" x="1173" y="430" width="43" height="42"/></g>
<g id="n10_4"><rect class="p1" x="1173" y="487.1" width="43" height="42"/></g>
<g id="n10_5"><rect class="wp" x="1173" y="544.3" width="43" height="42"/></g>
<g id="n10_6"><rect class="g4" x="1173" y="601.4" width="43" height="42"/></g>
<g id="n10_7"><rect class="w0" x="1173" y="658.6" width="43" height="42"/></g>
<g id="n10_8"><rect class="R" x="1173" y="715.7" width="43" height="42"/></g>
<g id="n10_9"><rect class="g3" x="1173" y="772.9" width="43" height="42"/></g>
<g id="n10_10"><rect class="wg" x="1173" y="830" width="43" height="42"/></g>
<g id="n10_11"><rect class="g3" x="1173" y="887.2" width="43" height="42"/></g>
<g id="n10_12"><rect class="wg" x="1173" y="944.3" width="43" height="42"/></g>
<g id="n10_13"><rect class="g4" x="1173" y="1001.5" width="43" height="42"/></g>
<g id="n10_14"><rect class="p2" x="1173" y="1058.6" width="43" height="42"/></g>
<g id="n10_15"><rect class="g2" x="1173" y="1115.8" width="43" height="42"/></g>
<g id="n10_16"><rect class="wg" x="1173" y="1172.9" width="43" height="42"/></g>
<g id="n10_17"><rect class="g1" x="1173" y="1230.1" width="43" height="42"/></g>
<g id="n11_0"><rect class="p1" x="1287" y="258.5" width="43" height="42"/></g>
<g id="n11_1"><rect class="wp" x="1287" y="315.7" width="43" height="42"/></g>
<g id="n11_2"><rect class="p3" x="1287" y="372.8" width="43" height="42"/></g>
<g id="n11_3"><rect class="p2" x="1287" y="430" width="43" height="42"/></g>
<g id="n11_4"><rect class="g3" x="1287" y="487.1" width="43" height="42"/></g>
<g id="n11_5"><rect class="wp" x="1287" y="544.3" width="43" height="42"/></g>
<g id="n11_6"><rect class="r1" x="1287" y="601.4" width="43" height="42"/></g>
<g id="n11_7"><rect class="w0" x="1287" y="658.6" width="43" height="42"/></g>
<g id="n11_8"><rect class="p2" x="1287" y="715.7" width="43" height="42"/></g>
<g id="n11_9"><rect class="g5" x="1287" y="772.9" width="43" height="42"/></g>
<g id="n11_10"><rect class="p0" x="1287" y="830" width="43" height="42"/></g>
<g id="n11_11"><rect class="wg" x="1287" y="887.2" width="43" height="42"/></g>
<g id="n11_12"><rect class="p2" x="1287" y="944.3" width="43" height="42"/></g>
<g id="n11_13"><rect class="p0" x="1287" y="1001.5" width="43" height="42"/></g>
<g id="n11_14"><rect class="p2" x="1287" y="1058.6" width="43" height="42"/></g>
<g id="n11_15"><rect class="p2" x="1287" y="1115.8" width="43" height="42"/></g>
<g id="n11_16"><rect class="g1" x="1287" y="1172.9" width="43" height="42"/></g>
<g id="n11_17"><rect class="g1" x="1287" y="1230.1" width="43" height="42"/></g>
<g id="n12_0"><rect class="g2" x="1401" y="258.5" width="43" height="42"/></g>
<g id="n12_1"><rect class="p2" x="1401" y="315.7" width="43" height="42"/></g>
<g id="n12_2"><rect class="w0" x="1401" y="372.8" width="43" height="42"/></g>
<g id="n12_3"><rect class="wg" x="1401" y="430" width="43" height="42"/></g>
<g id="n12_4"><rect class="wg" x="1401" y="487.1" width="43" height="42"/></g>
<g id="n12_5"><rect class="g2" x="1401" y="544.3" width="43" height="42"/></g>
<g id="n12_6"><rect class="wg" x="1401" y="601.4" width="43" height="42"/></g>
<g id="n12_7"><rect class="g1" x="1401" y="658.6" width="43" height="42"/></g>
<g id="n12_8"><rect class="p2" x="1401" y="715.7" width="43" height="42"/></g>
<g id="n12_9"><rect class="w0" x="1401" y="772.9" width="43" height="42"/></g>
<g id="n12_10"><rect class="wg" x="1401" y="830" width="43" height="42"/></g>
<g id="n12_11"><rect class="g2" x="1401" y="887.2" width="43" height="42"/></g>
<g id="n12_12"><rect class="g4" x="1401" y="944.3" width="43" height="42"/></g>
<g id="n12_13"><rect class="g4" x="1401" y="1001.5" width="43" height="42"/></g>
<g id="n12_14"><rect class="p2" x="1401" y="1058.6" width="43" height="42"/></g>
<g id="n12_15"><rect class="p2" x="1401" y="1115.8" width="43" height="42"/></g>
<g id="n12_16"><rect class="g5" x="1401" y="1172.9" width="43" height="42"/></g>
<g id="n12_17"><rect class="w0" x="1401" y="1230.1" width="43" height="42"/></g>
<g id="n13_0"><rect class="p2" x="1515" y="258.5" width="43" height="42"/></g>
<g id="n13_1"><rect class="g2" x="1515" y="315.7" width="43" height="42"/></g>
<g id="n13_2"><rect class="g3" x="1515" y="372.8" width="43" height="42"/></g>
<g id="n13_3"><rect class="r0" x="1515" y="430" width="43" height="42"/></g>
<g id="n13_4"><rect class="w0" x="1515" y="487.1" width="43" height="42"/></g>
<g id="n13_5"><rect class="g1" x="1515" y="544.3" width="43" height="42"/></g>
<g id="n13_6"><rect class="g2" x="1515" y="601.4" width="43" height="42"/></g>
<g id="n13_7"><rect class="g2" x="1515" y="658.6" width="43" height="42"/></g>
<g id="n13_8"><rect class="p2" x="1515" y="715.7" width="43" height="42"/></g>
<g id="n13_9"><rect class="p2" x="1515" y="772.9" width="43" height="42"/></g>
<g id="n13_10"><rect class="w0" x="1515" y="830" width="43" height="42"/></g>
<g id="n13_11"><rect class="pe" x="1515" y="887.2" width="43" height="42"/></g>
<g id="n13_12"><rect class="g1" x="1515" y="944.3" width="43" height="42"/></g>
<g id="n13_13"><rect class="p2" x="1515" y="1001.5" width="43" height="42"/></g>
<g id="n13_14"><rect class="p3" x="1515" y="1058.6" width="43" height="42"/></g>
<g id="n13_15"><rect class="wg" x="1515" y="1115.8" width="43" height="42"/></g>
<g id="n13_16"><rect class="p1" x="1515" y="1172.9" width="43" height="42"/></g>
<g id="n13_17"><rect class="pe" x="1515" y="1230.1" width="43" height="42"/></g>
<g id="n14_0"><rect class="g1" x="1629" y="258.5" width="43" height="42"/></g>
<g id="n14_1"><rect class="g1" x="1629" y="315.7" width="43" height="42"/></g>
<g id="n14_2"><rect class="p2" x="1629" y="372.8" width="43" height="42"/></g>
<g id="n14_3"><rect class="p1" x="1629" y="430" width="43" height="42"/></g>
<g id="n14_4"><rect class="w0" x="1629" y="487.1" width="43" height="42"/></g>
<g id="n14_5"><rect class="wp" x="1629" y="544.3" width="43" height="42"/></g>
<g id="n14_6"><rect class="g2" x="1629" y="601.4" width="43" height="42"/></g>
<g id="n14_7"><rect class="g2" x="1629" y="658.6" width="43" height="42"/></g>
<g id="n14_8"><rect class="wg" x="1629" y="715.7" width="43" height="42"/></g>
<g id="n14_9"><rect class="g2" x="1629" y="772.9" width="43" height="42"/></g>
<g id="n14_10"><rect class="g2" x="1629" y="830" width="43" height="42"/></g>
<g id="n14_11"><rect class="wp" x="1629" y="887.2" width="43" height="42"/></g>
<g id="n14_12"><rect class="g1" x="1629" y="944.3" width="43" height="42"/></g>
<g id="n14_13"><rect class="p1" x="1629" y="1001.5" width="43" height="42"/></g>
<g id="n14_14"><rect class="wg" x="1629" y="1058.6" width="43" height="42"/></g>
<g id="n14_15"><rect class="g2" x="1629" y="1115.8" width="43" height="42"/></g>
<g id="n14_16"><rect class="wg" x="1629" y="1172.9" width="43" height="42"/></g>
<g id="n14_17"><rect class="g3" x="1629" y="1230.1" width="43" height="42"/></g>
<g id="n15_0"><rect class="pe" x="1743" y="258.5" width="43" height="42"/></g>
<g id="n15_1"><rect class="p3" x="1743" y="315.7" width="43" height="42"/></g>
<g id="n15_2"><rect class="wp" x="1743" y="372.8" width="43" height="42"/></g>
<g id="n15_3"><rect class="wg" x="1743" y="430" width="43" height="42"/></g>
<g id="n15_4"><rect class="wp" x="1743" y="487.1" width="43" height="42"/></g>
<g id="n15_5"><rect class="g2" x="1743" y="544.3" width="43" height="42"/></g>
<g id="n15_6"><rect class="w0" x="1743" y="601.4" width="43" height="42"/></g>
<g id="n15_7"><rect class="p1" x="1743" y="658.6" width="43" height="42"/></g>
<g id="n15_8"><rect class="p0" x="1743" y="715.7" width="43" height="42"/></g>
<g id="n15_9"><rect class="g3" x="1743" y="772.9" width="43" height="42"/></g>
<g id="n15_10"><rect class="wg" x="1743" y="830" width="43" height="42"/></g>
<g id="n15_11"><rect class="w0" x="1743" y="887.2" width="43" height="42"/></g>
<g id="n15_12"><rect class="p3" x="1743" y="944.3" width="43" height="42"/></g>
<g id="n15_13"><rect class="p1" x="1743" y="1001.5" width="43" height="42"/></g>
<g id="n15_14"><rect class="g1" x="1743" y="1058.6" width="43" height="42"/></g>
<g id="n15_15"><rect class="g1" x="1743" y="1115.8" width="43" height="42"/></g>
<g id="n15_16"><rect class="g3" x="1743" y="1172.9" width="43" height="42"/></g>
<g id="n15_17"><rect class="w0" x="1743" y="1230.1" width="43" height="42"/></g>
<g id="n16_0"><rect class="pe" x="1857" y="258.5" width="43" height="42"/></g>
<g id="n16_1"><rect class="p0" x="1857" y="315.7" width="43" height="42"/></g>
<g id="n16_2"><rect class="wg" x="1857" y="372.8" width="43" height="42"/></g>
<g id="n16_3"><rect class="w0" x="1857" y="430" width="43" height="42"/></g>
<g id="n16_4"><rect class="wg" x="1857" y="487.1" width="43" height="42"/></g>
<g id="n16_5"><rect class="p1" x="1857" y="544.3" width="43" height="42"/></g>
<g id="n16_6"><rect class="g1" x="1857" y="601.4" width="43" height="42"/></g>
<g id="n16_7"><rect class="r1" x="1857" y="658.6" width="43" height="42"/></g>
<g id="n16_8"><rect class="g1" x="1857" y="715.7" width="43" height="42"/></g>
<g id="n16_9"><rect class="g1" x="1857" y="772.9" width="43" height="42"/></g>
<g id="n16_10"><rect class="g4" x="1857" y="830" width="43" height="42"/></g>
<g id="n16_11"><rect class="p2" x="1857" y="887.2" width="43" height="42"/></g>
<g id="n16_12"><rect class="r2" x="1857" y="944.3" width="43" height="42"/></g>
<g id="n16_13"><rect class="p2" x="1857" y="1001.5" width="43" height="42"/></g>
<g id="n16_14"><rect class="p1" x="1857" y="1058.6" width="43" height="42"/></g>
<g id="n16_15"><rect class="p0" x="1857" y="1115.8" width="43" height="42"/></g>
<g id="n16_16"><rect class="g3" x="1857" y="1172.9" width="43" height="42"/></g>
<g id="n16_17"><rect class="w0" x="1857" y="1230.1" width="43" height="42"/></g>
<g id="n17_0"><rect class="p2" x="1971" y="258.5" width="43" height="42"/></g>
<g id="n17_1"><rect class="w0" x="1971" y="315.7" width="43" height="42"/></g>
<g id="n17_2"><rect class="g1" x="1971" y="372.8" width="43" height="42"/></g>
<g id="n17_3"><rect class="g3" x="1971" y="430" width="43" height="42"/></g>
<g id="n17_4"><rect class="g1" x="1971" y="487.1" width="43" height="42"/></g>
<g id="n17_5"><rect class="p2" x="1971" y="544.3" width="43" height="42"/></g>
<g id="n17_6"><rect class="g2" x="1971" y="601.4" width="43" height="42"/></g>
<g id="n17_7"><rect class="g1" x="1971" y="658.6" width="43" height="42"/></g>
<g id="n17_8"><rect class="g1" x="1971" y="715.7" width="43" height="42"/></g>
<g id="n17_9"><rect class="w0" x="1971" y="772.9" width="43" height="42"/></g>
<g id="n17_10"><rect class="w0" x="1971" y="830" width="43" height="42"/></g>
<g id="n17_11"><rect class="p0" x="1971" y="887.2" width="43" height="42"/></g>
<g id="n17_12"><rect class="r0" x="1971" y="944.3" width="43" height="42"/></g>
<g id="n17_13"><rect class="wg" x="1971" y="1001.5" width="43" height="42"/></g>
<g id="n17_14"><rect class="g3" x="1971" y="1058.6" width="43" height="42"/></g>
<g id="n17_15"><rect class="w0" x="1971" y="1115.8" width="43" height="42"/></g>
<g id="n17_16"><rect class="w0" x="1971" y="1172.9" width="43" height="42"/></g>
<g id="n17_17"><rect class="g1" x="1971" y="1230.1" width="43" height="42"/></g>
</g>
</svg>
